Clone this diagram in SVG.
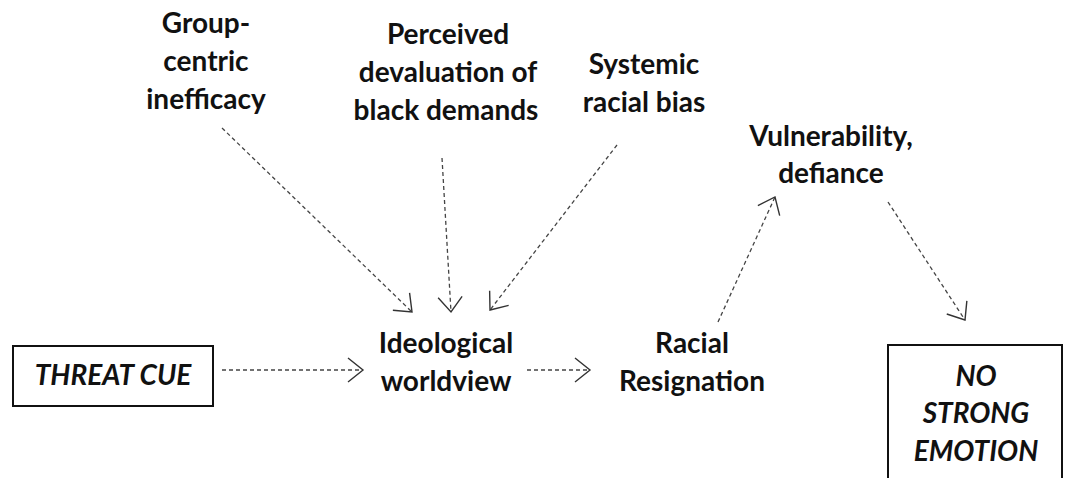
<svg xmlns="http://www.w3.org/2000/svg" width="1066" height="478" viewBox="0 0 1066 478">
  <style>
    .t { font-family: Lato, "Open Sans", "Liberation Sans", sans-serif; font-weight: bold; font-size: 28px; fill: #111; text-anchor: middle; }
    .ti { font-style: italic; }
    .box { fill: #fff; stroke: #111; stroke-width: 2; }
    .c { fill: none; stroke: #444; stroke-width: 1.3; stroke-dasharray: 4 3; marker-end: url(#ah); }
  </style>
  <defs>
    <marker id="ah" markerUnits="userSpaceOnUse" viewBox="-20 -16 24 32" refX="0" refY="0" markerWidth="24" markerHeight="32" orient="auto" overflow="visible">
      <path d="M-15,-12 L0,0 L-15,12" fill="none" stroke="#333" stroke-width="1.4" stroke-dasharray="none"/>
    </marker>
  </defs>
  <rect width="1066" height="478" fill="#fff"/>

  <g id="connectors">
    <line class="c" x1="222" y1="128" x2="412" y2="312"/>
    <line class="c" x1="442" y1="158" x2="451" y2="312"/>
    <line class="c" x1="617" y1="145" x2="490" y2="310"/>
    <line class="c" x1="222" y1="370" x2="363" y2="370"/>
    <line class="c" x1="527" y1="370" x2="590" y2="370"/>
    <line class="c" x1="718" y1="322" x2="775" y2="197"/>
    <line class="c" x1="888" y1="202" x2="965" y2="320"/>
  </g>

  <g id="group-centric">
    <text class="t" x="206" y="33">Group-</text>
    <text class="t" x="206" y="71">centric</text>
    <text class="t" x="206" y="109">inefficacy</text>
  </g>
  <g id="perceived">
    <text class="t" x="448" y="44">Perceived</text>
    <text class="t" x="448" y="82">devaluation of</text>
    <text class="t" x="446" y="120">black demands</text>
  </g>
  <g id="systemic">
    <text class="t" x="644" y="74">Systemic</text>
    <text class="t" x="644" y="112">racial bias</text>
  </g>
  <g id="vulnerability">
    <text class="t" x="831" y="146">Vulnerability,</text>
    <text class="t" x="831" y="183">defiance</text>
  </g>
  <g id="ideological">
    <text class="t" x="446" y="353">Ideological</text>
    <text class="t" x="446" y="391">worldview</text>
  </g>
  <g id="racial">
    <text class="t" x="692" y="353">Racial</text>
    <text class="t" x="692" y="391">Resignation</text>
  </g>
  <g id="threat">
    <rect class="box" x="13" y="346" width="200" height="60"/>
    <text class="t ti" x="113" y="385">THREAT CUE</text>
  </g>
  <g id="no-emotion">
    <rect class="box" x="888" y="345" width="174" height="150"/>
    <text class="t ti" x="976" y="386">NO</text>
    <text class="t ti" x="976" y="423">STRONG</text>
    <text class="t ti" x="976" y="461">EMOTION</text>
  </g>
</svg>
